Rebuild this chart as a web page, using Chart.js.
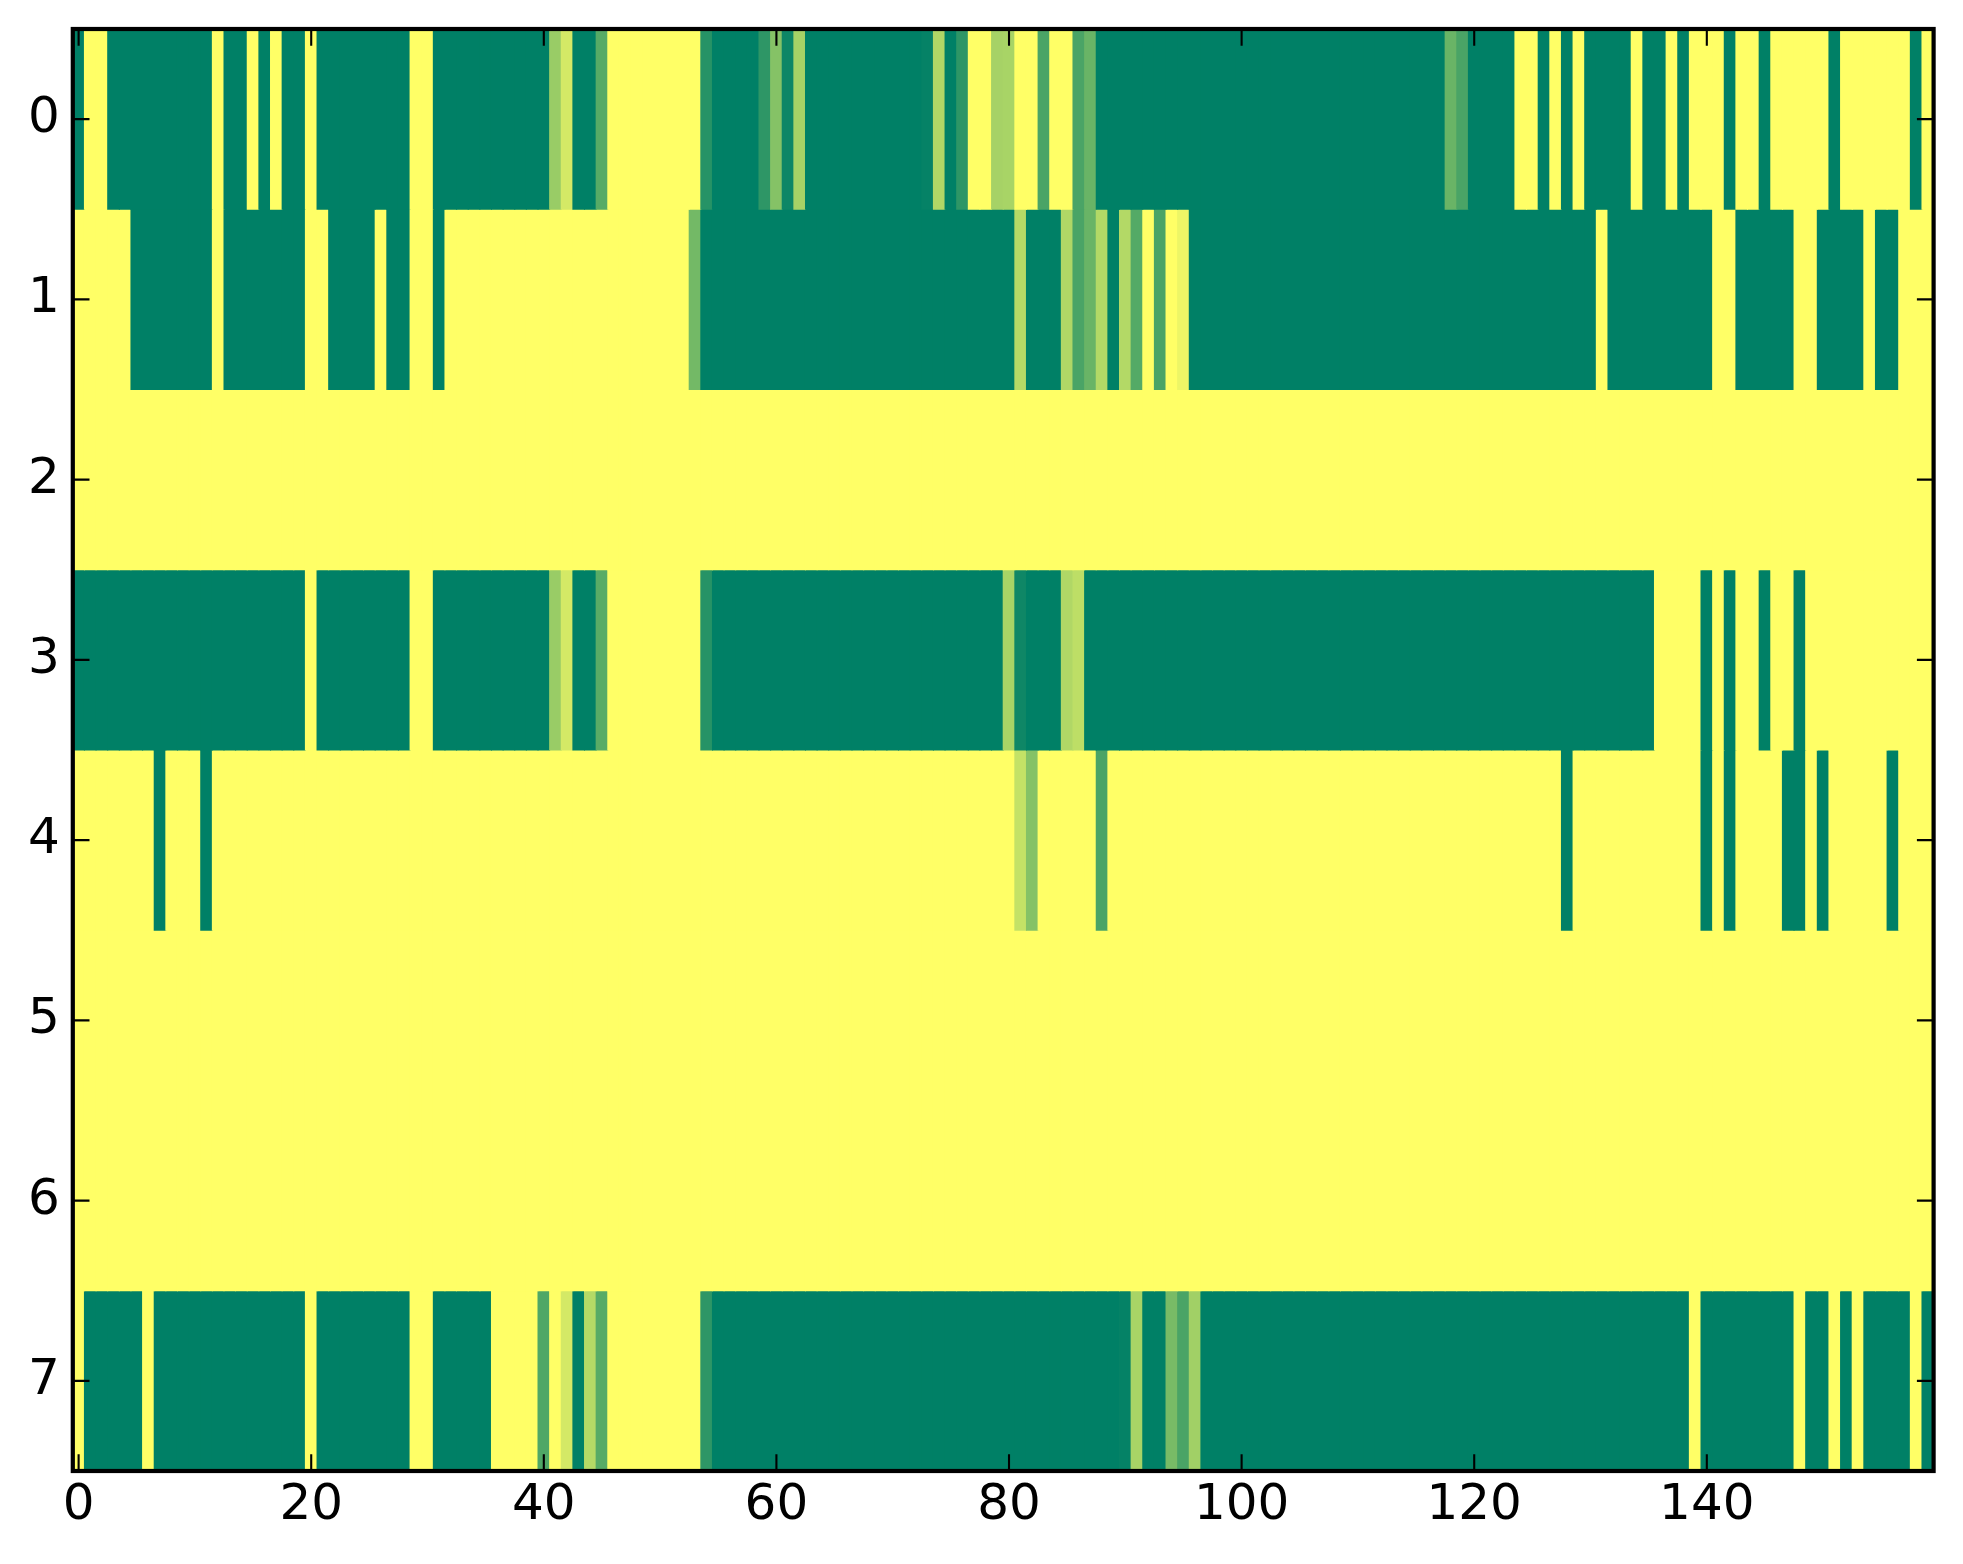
<!DOCTYPE html>
<html>
<head>
<meta charset="utf-8">
<style>
  html, body { margin: 0; padding: 0; background: #ffffff; }
  #wrap { width: 1963px; height: 1564px; }
</style>
<script src="https://cdn.jsdelivr.net/npm/chart.js@4.4.1/dist/chart.umd.min.js"></script>
</head>
<body>
<div id="wrap"><canvas id="c" width="1963" height="1564"></canvas></div>
<script>
// ---- data (values 0..1, drawn with the matplotlib "summer" colormap) ----
const rowLabels = [0, 1, 2, 3, 4, 5, 6, 7];
const xTickValues = [0, 20, 40, 60, 80, 100, 120, 140];

const row0 = [
  0,1,1,0,0,0,0,0,0,0, 0,0,1,0,0,1,0,1,0,0,
  1,0,0,0,0,0,0,0,0,1, 1,0,0,0,0,0,0,0,0,0,
  0,0.60,0.83,0,0,0.34,1,1,1,1, 1,1,1,1,0.15,0,0,0,0,0.18,
  0.52,0.05,0.65,0,0,0,0,0,0,0, 0,0,0,0.02,0.69,0,0.18,1,1,0.65,
  0.66,1,1,0.29,1,1,0.29,0.41,0,0, 0,0,0,0,0,0,0,0,0,0,
  0,0,0,0,0,0,0,0,0,0, 0,0,0,0,0,0,0,0,0.41,0.29,
  0,0,0,0,1,1,0,1,0,1, 0,0,0,0,1,0,0,1,0,1,
  1,1,0,1,1,0,1,1,1,1, 1,0,1,1,1,1,1,1,0,1
];
const row1 = [
  1,1,1,1,1,0,0,0,0,0, 0,0,1,0,0,0,0,0,0,0,
  1,1,0,0,0,0,1,0,0,1, 1,0,1,1,1,1,1,1,1,1,
  1,1,1,1,1,1,1,1,1,1, 1,1,1,0.45,0,0,0,0,0,0,
  0,0,0,0,0,0,0,0,0,0, 0,0,0,0,0,0,0,0,0,0,
  0,0.71,0,0,0,0.69,0.29,0.41,0.70,0, 0.70,0.33,1,0.29,1,0.93,0,0,0,0,
  0,0,0,0,0,0,0,0,0,0, 0,0,0,0,0,0,0,0,0,0,
  0,0,0,0,0,0,0,0,0,0, 0,1,0,0,0,0,0,0,0,0,
  0,1,1,0,0,0,0,0,1,1, 0,0,0,0,1,0,0,1,1,1
];
const row2 = [
  1,1,1,1,1,1,1,1,1,1, 1,1,1,1,1,1,1,1,1,1,
  1,1,1,1,1,1,1,1,1,1, 1,1,1,1,1,1,1,1,1,1,
  1,1,1,1,1,1,1,1,1,1, 1,1,1,1,1,1,1,1,1,1,
  1,1,1,1,1,1,1,1,1,1, 1,1,1,1,1,1,1,1,1,1,
  1,1,1,1,1,1,1,1,1,1, 1,1,1,1,1,1,1,1,1,1,
  1,1,1,1,1,1,1,1,1,1, 1,1,1,1,1,1,1,1,1,1,
  1,1,1,1,1,1,1,1,1,1, 1,1,1,1,1,1,1,1,1,1,
  1,1,1,1,1,1,1,1,1,1, 1,1,1,1,1,1,1,1,1,1
];
const row3 = [
  0,0,0,0,0,0,0,0,0,0, 0,0,0,0,0,0,0,0,0,0,
  1,0,0,0,0,0,0,0,0,1, 1,0,0,0,0,0,0,0,0,0,
  0,0.60,0.83,0,0,0.35,1,1,1,1, 1,1,1,1,0.15,0,0,0,0,0,
  0,0,0,0,0,0,0,0,0,0, 0,0,0,0,0,0,0,0,0,0,
  0.66,0.06,0,0,0,0.69,0.74,0,0,0, 0,0,0,0,0,0,0,0,0,0,
  0,0,0,0,0,0,0,0,0,0, 0,0,0,0,0,0,0,0,0,0,
  0,0,0,0,0,0,0,0,0,0, 0,0,0,0,0,0,1,1,1,1,
  0,1,0,1,1,0,1,1,0,1, 1,1,1,1,1,1,1,1,1,1
];
const row4 = [
  1,1,1,1,1,1,1,0,1,1, 1,0,1,1,1,1,1,1,1,1,
  1,1,1,1,1,1,1,1,1,1, 1,1,1,1,1,1,1,1,1,1,
  1,1,1,1,1,1,1,1,1,1, 1,1,1,1,1,1,1,1,1,1,
  1,1,1,1,1,1,1,1,1,1, 1,1,1,1,1,1,1,1,1,1,
  1,0.77,0.52,1,1,1,1,1,0.29,1, 1,1,1,1,1,1,1,1,1,1,
  1,1,1,1,1,1,1,1,1,1, 1,1,1,1,1,1,1,1,1,1,
  1,1,1,1,1,1,1,1,0,1, 1,1,1,1,1,1,1,1,1,1,
  0,1,0,1,1,1,1,0,0,1, 0,1,1,1,1,1,0,1,1,1
];
const row5 = [
  1,1,1,1,1,1,1,1,1,1, 1,1,1,1,1,1,1,1,1,1,
  1,1,1,1,1,1,1,1,1,1, 1,1,1,1,1,1,1,1,1,1,
  1,1,1,1,1,1,1,1,1,1, 1,1,1,1,1,1,1,1,1,1,
  1,1,1,1,1,1,1,1,1,1, 1,1,1,1,1,1,1,1,1,1,
  1,1,1,1,1,1,1,1,1,1, 1,1,1,1,1,1,1,1,1,1,
  1,1,1,1,1,1,1,1,1,1, 1,1,1,1,1,1,1,1,1,1,
  1,1,1,1,1,1,1,1,1,1, 1,1,1,1,1,1,1,1,1,1,
  1,1,1,1,1,1,1,1,1,1, 1,1,1,1,1,1,1,1,1,1
];
const row6 = [
  1,1,1,1,1,1,1,1,1,1, 1,1,1,1,1,1,1,1,1,1,
  1,1,1,1,1,1,1,1,1,1, 1,1,1,1,1,1,1,1,1,1,
  1,1,1,1,1,1,1,1,1,1, 1,1,1,1,1,1,1,1,1,1,
  1,1,1,1,1,1,1,1,1,1, 1,1,1,1,1,1,1,1,1,1,
  1,1,1,1,1,1,1,1,1,1, 1,1,1,1,1,1,1,1,1,1,
  1,1,1,1,1,1,1,1,1,1, 1,1,1,1,1,1,1,1,1,1,
  1,1,1,1,1,1,1,1,1,1, 1,1,1,1,1,1,1,1,1,1,
  1,1,1,1,1,1,1,1,1,1, 1,1,1,1,1,1,1,1,1,1
];
const row7 = [
  1,0,0,0,0,0,1,0,0,0, 0,0,0,0,0,0,0,0,0,0,
  1,0,0,0,0,0,0,0,0,1, 1,0,0,0,0,0,1,1,1,1,
  0.31,1,0.83,0,0.71,0.34,1,1,1,1, 1,1,1,1,0.18,0,0,0,0,0,
  0,0,0,0,0,0,0,0,0,0, 0,0,0,0,0,0,0,0,0,0,
  0,0,0,0,0,0,0,0,0,0, 0.02,0.66,0,0,0.47,0.29,0.63,0,0,0,
  0,0,0,0,0,0,0,0,0,0, 0,0,0,0,0,0,0,0,0,0,
  0,0,0,0,0,0,0,0,0,0, 0,0,0,0,0,0,0,0,0,1,
  0,0,0,0,0,0,0,0,1,0, 0,1,0,1,0,0,0,0,1,0
];

// ---- build ----
const rows = [row0, row1, row2, row3, row4, row5, row6, row7];

function summer(v) {
  const r = Math.round(255 * v);
  const g = Math.round(255 * (0.5 + 0.5 * v));
  const b = 102;
  return 'rgb(' + r + ',' + g + ',' + b + ')';
}

const datasets = rows.map((vals, r) => ({
  label: 'row ' + rowLabels[r],
  data: vals.map((v, c) => ({ x: c, y: [rowLabels[r] - 0.5, rowLabels[r] + 0.5] })),
  backgroundColor: vals.map(summer),
  borderWidth: 0,
  grouped: false,
  barPercentage: 1.0,
  categoryPercentage: 1.0,
  inflateAmount: 0.5
}));

const FONT = 'DejaVu Sans';
const TICK_LEN = 16.7;

const frame = {
  id: 'frame',
  beforeDraw(chart) {
    const ctx = chart.ctx;
    ctx.save();
    ctx.fillStyle = '#ffffff';
    ctx.fillRect(0, 0, chart.width, chart.height);
    ctx.restore();
  },
  afterDatasetsDraw(chart) {
    const { ctx, chartArea: a, scales } = chart;
    ctx.save();
    ctx.strokeStyle = '#000000';
    ctx.lineWidth = 2.1;
    ctx.beginPath();
    xTickValues.forEach(v => {
      const px = scales.x.getPixelForValue(v);
      ctx.moveTo(px, a.bottom); ctx.lineTo(px, a.bottom - TICK_LEN);
      ctx.moveTo(px, a.top); ctx.lineTo(px, a.top + TICK_LEN);
    });
    rowLabels.forEach(v => {
      const py = scales.y.getPixelForValue(v);
      ctx.moveTo(a.left, py); ctx.lineTo(a.left + TICK_LEN, py);
      ctx.moveTo(a.right, py); ctx.lineTo(a.right - TICK_LEN, py);
    });
    ctx.stroke();
    ctx.lineWidth = 4.2;
    ctx.strokeRect(a.left, a.top, a.right - a.left, a.bottom - a.top);
    ctx.restore();
  }
};

new Chart(document.getElementById('c'), {
  type: 'bar',
  data: { datasets },
  plugins: [frame],
  options: {
    responsive: false,
    animation: false,
    devicePixelRatio: 1,
    layout: { padding: { left: 0, right: 29.4, top: 29, bottom: 0 } },
    plugins: { legend: { display: false }, tooltip: { enabled: false } },
    scales: {
      x: {
        type: 'linear',
        min: -0.5,
        max: 159.5,
        offset: false,
        grid: { display: false, drawTicks: false, offset: false },
        border: { display: false },
        afterBuildTicks: axis => { axis.ticks = xTickValues.map(v => ({ value: v })); },
        afterFit: scale => {
          scale.height = 93;
          scale.paddingLeft = 0; scale.paddingRight = 0;
        },
        ticks: {
          color: '#000000',
          font: { family: FONT, size: 50 },
          padding: 5,
          maxRotation: 0,
          autoSkip: false
        }
      },
      y: {
        type: 'linear',
        reverse: true,
        min: -0.5,
        max: 7.5,
        offset: false,
        grid: { display: false, drawTicks: false },
        border: { display: false },
        afterBuildTicks: axis => { axis.ticks = rowLabels.map(v => ({ value: v })); },
        afterFit: scale => {
          scale.width = 72.8;
          scale.paddingTop = 0; scale.paddingBottom = 0;
        },
        ticks: {
          color: '#000000',
          font: { family: FONT, size: 50 },
          padding: 13,
          autoSkip: false
        }
      }
    }
  }
});
</script>
</body>
</html>
